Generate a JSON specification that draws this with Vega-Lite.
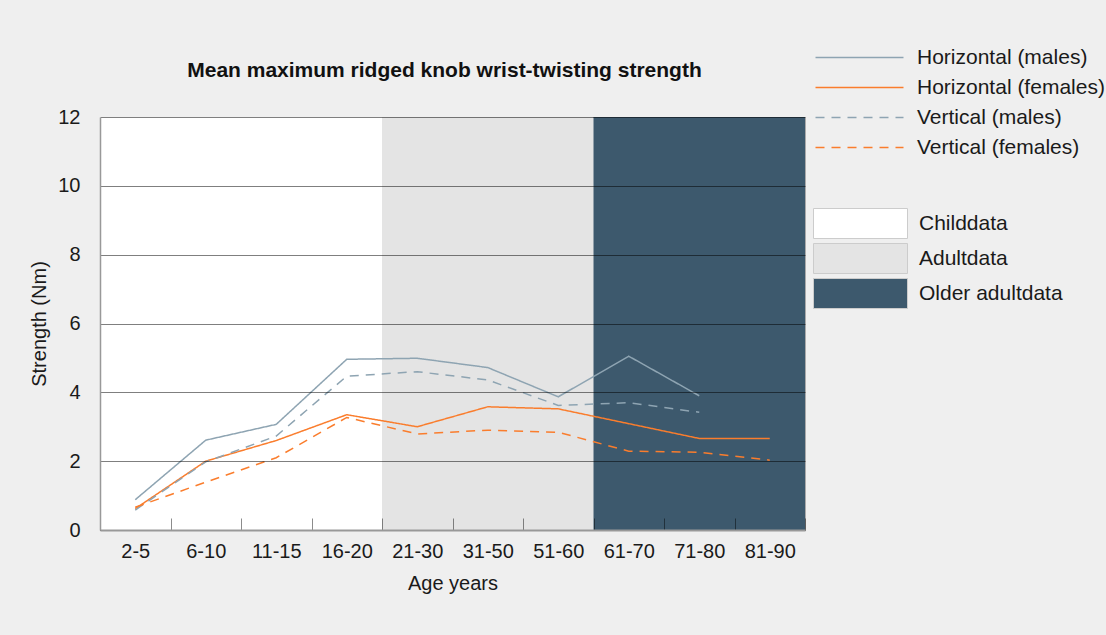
{
  "$schema": "https://vega.github.io/schema/vega-lite/v6.json",
  "autosize": "none",
  "padding": {"left": 100, "top": 117, "right": 301, "bottom": 105},
  "width": 705,
  "height": 413,
  "background": "#efefef",
  "config": {
    "font": "Liberation Sans",
    "view": {"stroke": "#aaaaaa", "strokeWidth": 1},
    "axis": {"labelColor": "#1a1a1a", "titleColor": "#1a1a1a", "labelFont": "Liberation Sans", "titleFont": "Liberation Sans", "titleFontWeight": "normal"},
    "legend": {"labelFont": "Liberation Sans", "labelColor": "#1a1a1a", "labelLimit": 300}
  },
  "title": {
    "text": "Mean maximum ridged knob wrist-twisting strength",
    "fontSize": 21,
    "fontWeight": "bold",
    "color": "#111111",
    "anchor": "middle",
    "offset": 34,
    "dy": 68,
    "dx": -8
  },
  "datasets": {
    "bands": [
      {"start": "2-5", "end": "16-20", "group": "Childdata"},
      {"start": "21-30", "end": "51-60", "group": "Adultdata"},
      {"start": "61-70", "end": "81-90", "group": "Older adultdata"}
    ],
    "strength": [
      {"age": "2-5", "series": "Horizontal (males)", "value": 0.88},
      {"age": "6-10", "series": "Horizontal (males)", "value": 2.61},
      {"age": "11-15", "series": "Horizontal (males)", "value": 3.07},
      {"age": "16-20", "series": "Horizontal (males)", "value": 4.96},
      {"age": "21-30", "series": "Horizontal (males)", "value": 4.99},
      {"age": "31-50", "series": "Horizontal (males)", "value": 4.72},
      {"age": "51-60", "series": "Horizontal (males)", "value": 3.87},
      {"age": "61-70", "series": "Horizontal (males)", "value": 5.05},
      {"age": "71-80", "series": "Horizontal (males)", "value": 3.9},
      {"age": "2-5", "series": "Horizontal (females)", "value": 0.62},
      {"age": "6-10", "series": "Horizontal (females)", "value": 2.0},
      {"age": "11-15", "series": "Horizontal (females)", "value": 2.6},
      {"age": "16-20", "series": "Horizontal (females)", "value": 3.35},
      {"age": "21-30", "series": "Horizontal (females)", "value": 3.0},
      {"age": "31-50", "series": "Horizontal (females)", "value": 3.58},
      {"age": "51-60", "series": "Horizontal (females)", "value": 3.52},
      {"age": "61-70", "series": "Horizontal (females)", "value": 3.09},
      {"age": "71-80", "series": "Horizontal (females)", "value": 2.66},
      {"age": "81-90", "series": "Horizontal (females)", "value": 2.66},
      {"age": "2-5", "series": "Vertical (males)", "value": 0.58},
      {"age": "6-10", "series": "Vertical (males)", "value": 1.98},
      {"age": "11-15", "series": "Vertical (males)", "value": 2.73},
      {"age": "16-20", "series": "Vertical (males)", "value": 4.47},
      {"age": "21-30", "series": "Vertical (males)", "value": 4.6},
      {"age": "31-50", "series": "Vertical (males)", "value": 4.36},
      {"age": "51-60", "series": "Vertical (males)", "value": 3.62},
      {"age": "61-70", "series": "Vertical (males)", "value": 3.7},
      {"age": "71-80", "series": "Vertical (males)", "value": 3.42},
      {"age": "2-5", "series": "Vertical (females)", "value": 0.66},
      {"age": "6-10", "series": "Vertical (females)", "value": 1.39},
      {"age": "11-15", "series": "Vertical (females)", "value": 2.1},
      {"age": "16-20", "series": "Vertical (females)", "value": 3.27},
      {"age": "21-30", "series": "Vertical (females)", "value": 2.79},
      {"age": "31-50", "series": "Vertical (females)", "value": 2.9},
      {"age": "51-60", "series": "Vertical (females)", "value": 2.84},
      {"age": "61-70", "series": "Vertical (females)", "value": 2.29},
      {"age": "71-80", "series": "Vertical (females)", "value": 2.26},
      {"age": "81-90", "series": "Vertical (females)", "value": 2.03}
    ]
  },
  "layer": [
    {
      "data": {"name": "bands"},
      "mark": {"type": "rect"},
      "encoding": {
        "x": {
          "field": "start",
          "type": "nominal",
          "bandPosition": 0,
          "scale": {"type": "band", "paddingInner": 0, "paddingOuter": 0, "domain": ["2-5", "6-10", "11-15", "16-20", "21-30", "31-50", "51-60", "61-70", "71-80", "81-90"]},
          "axis": {
            "title": "Age years",
            "titleFontSize": 20,
            "titlePadding": 12,
            "labelFontSize": 20,
            "labelAngle": 0,
            "labelPadding": 23,
            "tickBand": "extent",
            "tickSize": -12,
            "tickColor": "#000000",
            "tickOpacity": 0.45,
            "tickWidth": 1,
            "domainColor": "#999999",
            "domainWidth": 2,
            "grid": false,
            "zindex": 1
          }
        },
        "x2": {"field": "end", "bandPosition": 1},
        "y": {"datum": 0, "type": "quantitative"},
        "y2": {"datum": 12},
        "fill": {
          "field": "group",
          "type": "nominal",
          "scale": {"domain": ["Childdata", "Adultdata", "Older adultdata"], "range": ["#ffffff", "#e4e4e4", "#3d596d"]},
          "legend": {
            "title": null,
            "orient": "none",
            "legendX": 750,
            "legendY": 96,
            "symbolType": "M-9.4,-3H9.4V3H-9.4Z",
            "symbolSize": 100,
            "symbolStrokeColor": "#cccccc",
            "symbolStrokeWidth": 1,
            "symbolOpacity": 1,
            "labelFontSize": 21,
            "labelOffset": 48,
            "rowPadding": 0
          }
        }
      }
    },
    {
      "data": {"name": "strength"},
      "mark": {"type": "line", "strokeWidth": 1.5},
      "encoding": {
        "x": {"field": "age", "type": "nominal", "bandPosition": 0.5},
        "y": {
          "field": "value",
          "type": "quantitative",
          "scale": {"domain": [0, 12], "nice": false},
          "axis": {
            "title": "Strength (Nm)",
            "titleFontSize": 20,
            "titlePadding": 8,
            "labelFontSize": 20,
            "labelPadding": 20,
            "ticks": false,
            "values": [0, 2, 4, 6, 8, 10, 12],
            "domainColor": "#999999",
            "domainWidth": 1.5,
            "grid": true,
            "gridColor": "#000000",
            "gridOpacity": 0.5,
            "gridWidth": 1,
            "zindex": 1
          }
        },
        "stroke": {
          "field": "series",
          "type": "nominal",
          "scale": {"domain": ["Horizontal (males)", "Horizontal (females)", "Vertical (males)", "Vertical (females)"], "range": ["#8ea4b2", "#fa7d2d", "#8ea4b2", "#fa7d2d"]},
          "legend": {
            "title": null,
            "orient": "none",
            "legendX": 749,
            "legendY": -70,
            "symbolType": "M-8.8,0H8.8",
            "symbolSize": 100,
            "symbolStrokeWidth": 1.5,
            "labelFontSize": 21,
            "labelOffset": 47,
            "rowPadding": 8
          }
        },
        "strokeDash": {
          "field": "series",
          "type": "nominal",
          "scale": {"domain": ["Horizontal (males)", "Horizontal (females)", "Vertical (males)", "Vertical (females)"], "range": [[1, 0], [1, 0], [9, 7], [9, 7]]},
          "legend": {
            "title": null,
            "orient": "none",
            "legendX": 749,
            "legendY": -70,
            "symbolType": "M-8.8,0H8.8",
            "symbolSize": 100,
            "symbolStrokeWidth": 1.5,
            "labelFontSize": 21,
            "labelOffset": 47,
            "rowPadding": 8
          }
        }
      }
    }
  ]
}
